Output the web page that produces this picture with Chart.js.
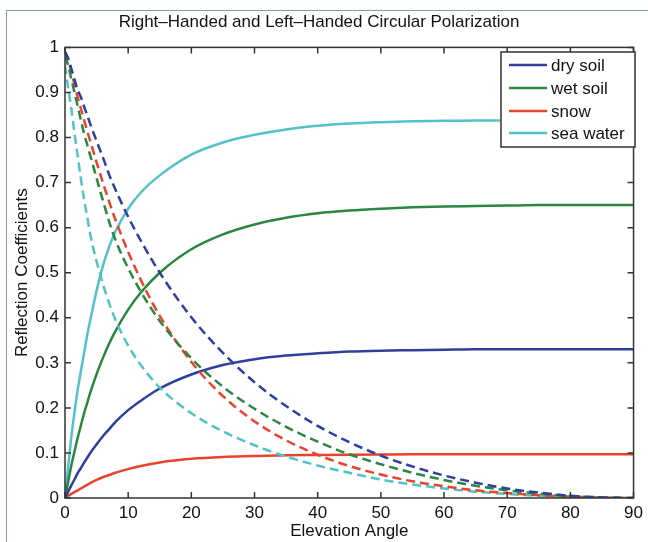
<!DOCTYPE html>
<html><head><meta charset="utf-8">
<script src="https://cdn.jsdelivr.net/npm/chart.js@4.4.1/dist/chart.umd.min.js"></script>
<style>
html,body{margin:0;padding:0;background:#fff;}
#wrap{position:relative;width:648px;height:542px;overflow:hidden;background:#fff;}
#frame{position:absolute;left:6px;top:10px;width:700px;height:600px;border-left:1px solid #7f9cc4;border-top:1px solid #7f9cc4;pointer-events:none;}
canvas{position:absolute;left:0;top:0;}
</style></head><body>
<div id="wrap"><canvas id="c" width="648" height="542"></canvas><div id="frame"></div></div>
<script>
// Elevation angle (degrees)
const angles = [0,0.5,1,1.5,2,2.5,3,3.5,4,5,6,7,8,10,12,15,20,25,30,35,40,45,50,55,60,65,70,75,80,85,90];

// Solid curves (legend entries)
const drySoil  = [0,0.014,0.028,0.041,0.055,0.066,0.078,0.089,0.100,0.119,0.137,0.153,0.169,0.195,0.216,0.243,0.274,0.295,0.308,0.316,0.321,0.325,0.327,0.328,0.329,0.330,0.330,0.330,0.330,0.330,0.330];
const wetSoil  = [0,0.036,0.072,0.103,0.133,0.160,0.187,0.210,0.234,0.275,0.311,0.343,0.371,0.418,0.456,0.500,0.552,0.585,0.607,0.622,0.632,0.638,0.642,0.645,0.647,0.648,0.649,0.650,0.650,0.650,0.650];
const snow     = [0,0.005,0.009,0.013,0.017,0.021,0.025,0.029,0.033,0.040,0.046,0.051,0.056,0.064,0.071,0.079,0.087,0.091,0.093,0.095,0.0955,0.096,0.0965,0.097,0.097,0.097,0.097,0.097,0.097,0.097,0.097];
const seaWater = [0,0.07,0.135,0.19,0.24,0.28,0.32,0.36,0.395,0.46,0.515,0.558,0.592,0.642,0.678,0.716,0.762,0.789,0.806,0.818,0.826,0.831,0.834,0.836,0.837,0.838,0.838,0.838,0.838,0.838,0.838];

// Dashed curves (other handedness)
const drySoilDash  = [0.99,0.976,0.953,0.929,0.906,0.89,0.87,0.85,0.83,0.792,0.756,0.717,0.684,0.624,0.571,0.500,0.401,0.322,0.257,0.204,0.160,0.124,0.094,0.070,0.050,0.034,0.021,0.012,0.005,0.0013,0];
const wetSoilDash  = [0.98,0.96,0.93,0.90,0.87,0.84,0.81,0.785,0.76,0.71,0.66,0.613,0.572,0.51,0.458,0.393,0.31,0.247,0.198,0.158,0.125,0.097,0.075,0.056,0.04,0.027,0.017,0.0096,0.0042,0.001,0];
const snowDash     = [0.99,0.972,0.946,0.918,0.89,0.865,0.84,0.815,0.792,0.745,0.70,0.657,0.617,0.546,0.484,0.404,0.302,0.226,0.170,0.128,0.096,0.071,0.052,0.037,0.026,0.017,0.011,0.006,0.003,0.0006,0];
const seaWaterDash = [0.96,0.91,0.865,0.81,0.76,0.71,0.665,0.625,0.585,0.525,0.475,0.432,0.395,0.338,0.295,0.245,0.188,0.148,0.117,0.092,0.072,0.056,0.041,0.03,0.021,0.014,0.009,0.005,0.002,0.0005,0];

const seriesNames = ['dry soil','wet soil','snow','sea water'];
const xTicks = [0,10,20,30,40,50,60,70,80,90];
const yTicks = [0,0.1,0.2,0.3,0.4,0.5,0.6,0.7,0.8,0.9,1];

const colors = ['#2f3f9e','#2a8640','#e8432d','#52c2c8'];
const toXY = arr => arr.map((v,i)=>({x:angles[i], y:v}));

const solidSets = [drySoil, wetSoil, snow, seaWater].map((arr,i)=>({
  label: seriesNames[i], data: toXY(arr), borderColor: colors[i], borderWidth: 2.5,
  pointRadius: 0, cubicInterpolationMode: 'monotone', fill: false, order: 2
}));
const dashSets = [drySoilDash, wetSoilDash, snowDash, seaWaterDash].map((arr,i)=>({
  label: seriesNames[i] + ' (dashed)', data: toXY(arr), borderColor: colors[i], borderWidth: 2.5,
  borderDash: [9,5], pointRadius: 0, cubicInterpolationMode: 'monotone', fill: false, order: 1
}));

const FONT = 'Liberation Sans, Arial, Helvetica, sans-serif';

const framePlugin = {
  id: 'framePlugin',
  afterDatasetsDraw(chart){
    const {ctx, chartArea:a, scales:{x,y}} = chart;
    ctx.save();
    ctx.strokeStyle = '#333'; ctx.lineWidth = 1.5;
    ctx.beginPath();
    xTicks.forEach(v=>{
      const px = x.getPixelForValue(v);
      ctx.moveTo(px,a.bottom); ctx.lineTo(px,a.bottom-6);
      ctx.moveTo(px,a.top); ctx.lineTo(px,a.top+6);
    });
    yTicks.forEach(v=>{
      const py = y.getPixelForValue(v);
      ctx.moveTo(a.left,py); ctx.lineTo(a.left+6,py);
      ctx.moveTo(a.right,py); ctx.lineTo(a.right-6,py);
    });
    ctx.stroke();
    ctx.strokeRect(a.left, a.top, a.right-a.left, a.bottom-a.top);

    // legend box (top-right, inside axes)
    const bx = 501, by = 52, bw = 134, bh = 95;
    ctx.fillStyle = '#fff';
    ctx.fillRect(bx, by, bw, bh);
    ctx.lineWidth = 1.5; ctx.strokeStyle = '#333';
    ctx.strokeRect(bx, by, bw, bh);
    ctx.font = '17px ' + FONT;
    ctx.textBaseline = 'middle'; ctx.textAlign = 'left';
    const rows = [65, 88, 111, 133];
    solidSets.forEach((ds,i)=>{
      ctx.strokeStyle = ds.borderColor; ctx.lineWidth = 2.5;
      ctx.beginPath(); ctx.moveTo(509, rows[i]); ctx.lineTo(547, rows[i]); ctx.stroke();
      ctx.fillStyle = '#111';
      ctx.fillText(ds.label, 551, rows[i]+1);
    });
    ctx.restore();
  }
};

new Chart(document.getElementById('c'), {
  type: 'line',
  data: { datasets: [...solidSets, ...dashSets] },
  options: {
    responsive: false, animation: false, devicePixelRatio: 1,
    layout: { padding: { left: 0, right: 10, top: 0, bottom: 0 } },
    plugins: {
      legend: { display: false },
      tooltip: { enabled: false },
      title: {
        display: true, text: 'Right\u2013Handed and Left\u2013Handed Circular Polarization',
        color: '#111', font: { family: FONT, size: 17, weight: 'normal' },
        padding: { top: 12, bottom: 15 }
      }
    },
    scales: {
      x: {
        type: 'linear', min: 0, max: 90,
        afterBuildTicks: s => { s.ticks = xTicks.map(v=>({value:v})); },
        ticks: { color: '#111', font: { family: FONT, size: 17 }, padding: 5, maxRotation: 0, autoSkip: false },
        grid: { display: false, drawTicks: false },
        border: { display: false },
        title: { display: true, text: 'Elevation Angle', color: '#111', font: { family: FONT, size: 17 }, padding: { top: 0, bottom: 0 } },
        afterFit: s => { s.height = 44; }
      },
      y: {
        type: 'linear', min: 0, max: 1,
        afterBuildTicks: s => { s.ticks = yTicks.map(v=>({value:v})); },
        ticks: { color: '#111', font: { family: FONT, size: 17 }, padding: 6, autoSkip: false,
                 callback: v => String(Math.round(v*10)/10) },
        grid: { display: false, drawTicks: false },
        border: { display: false },
        title: { display: true, text: 'Reflection Coefficients', color: '#111', font: { family: FONT, size: 17 }, padding: { top: 12, bottom: 0 } },
        afterFit: s => { s.width = 65; }
      }
    }
  },
  plugins: [framePlugin]
});
</script>
</body></html>
